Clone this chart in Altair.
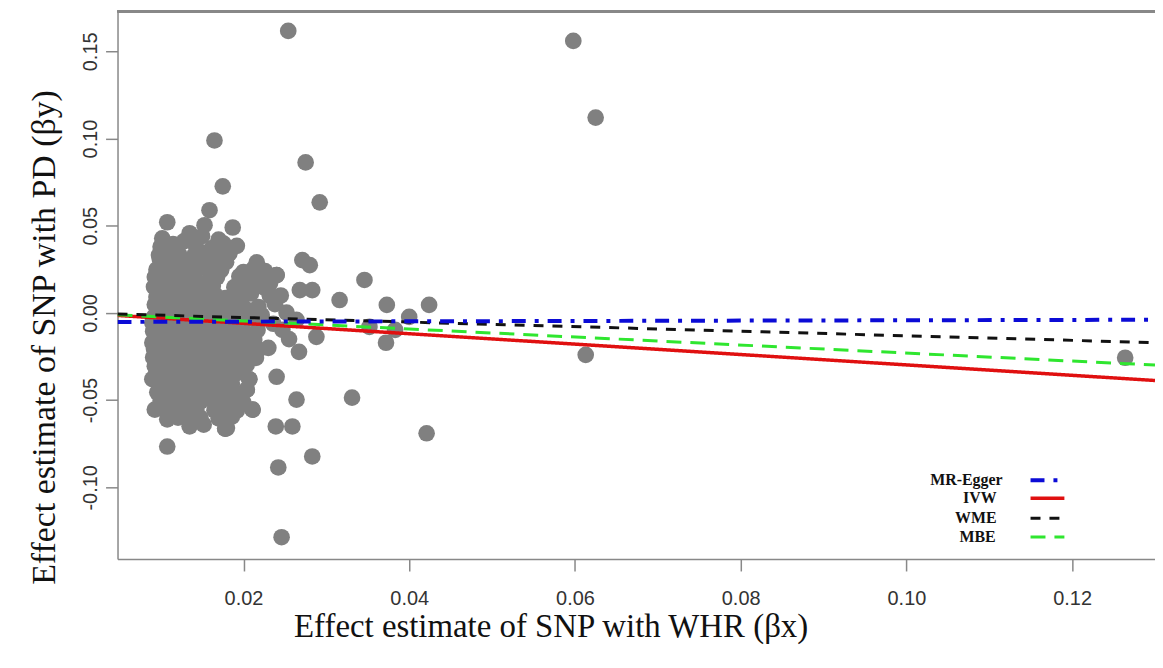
import altair as alt
import pandas as pd

# ---------------- data ----------------
cluster_points = [
    (0.0102,0.0428),(0.0108,0.0520),(0.0135,0.0457),(0.0150,0.0440),(0.0153,0.0503),(0.0159,0.0589),(0.0187,0.0490),(0.0170,0.0420),
    (0.0100,0.0380),(0.0115,0.0395),(0.0128,0.0410),(0.0162,0.0372),(0.0176,0.0398),(0.0192,0.0385),(0.0143,0.0375),
    (0.0098,0.0332),(0.0110,0.0345),(0.0122,0.0338),(0.0140,0.0325),(0.0158,0.0350),(0.0171,0.0318),(0.0183,0.0342),
    (0.0099,0.0310),(0.0108,0.0285),(0.0121,0.0296),(0.0133,0.0282),(0.0152,0.0300),(0.0166,0.0276),(0.0179,0.0291),(0.0216,0.0290),
    (0.0095,0.0248),(0.0105,0.0238),(0.0118,0.0256),(0.0131,0.0232),(0.0144,0.0250),(0.0160,0.0228),(0.0173,0.0245),(0.0200,0.0235),(0.0212,0.0252),(0.0226,0.0240),
    (0.0093,0.0206),(0.0103,0.0190),(0.0116,0.0212),(0.0127,0.0185),(0.0141,0.0198),(0.0156,0.0176),(0.0168,0.0204),(0.0195,0.0210),(0.0207,0.0188),(0.0221,0.0200),(0.0240,0.0217),(0.0232,0.0170),
    (0.0092,0.0150),(0.0104,0.0138),(0.0117,0.0158),(0.0129,0.0132),(0.0142,0.0146),(0.0150,0.0120),(0.0163,0.0155),(0.0189,0.0148),(0.0201,0.0130),(0.0214,0.0160),(0.0226,0.0142),
    (0.0095,0.0091),(0.0102,0.0105),(0.0114,0.0088),(0.0126,0.0110),(0.0138,0.0094),(0.0151,0.0080),(0.0166,0.0102),(0.0178,0.0085),(0.0196,0.0098),(0.0209,0.0112),(0.0232,0.0096),
    (0.0093,0.0048),(0.0105,0.0035),(0.0117,0.0056),(0.0129,0.0030),(0.0141,0.0052),(0.0157,0.0040),(0.0169,0.0062),(0.0184,0.0038),(0.0198,0.0054),(0.0218,0.0034),(0.0238,0.0050),
    (0.0092,-0.0023),(0.0103,0.0008),(0.0115,-0.0010),(0.0127,0.0012),(0.0139,-0.0005),(0.0153,0.0010),(0.0166,-0.0015),(0.0180,0.0005),(0.0193,-0.0008),(0.0206,0.0015),(0.0222,-0.0012),(0.0252,0.0002),
    (0.0090,-0.0055),(0.0101,-0.0045),(0.0113,-0.0062),(0.0125,-0.0040),(0.0137,-0.0058),(0.0149,-0.0048),(0.0161,-0.0065),(0.0174,-0.0042),(0.0187,-0.0060),(0.0200,-0.0050),(0.0214,-0.0038),(0.0236,-0.0062),
    (0.0091,-0.0105),(0.0104,-0.0112),(0.0116,-0.0095),(0.0128,-0.0118),(0.0140,-0.0100),(0.0152,-0.0110),(0.0164,-0.0092),(0.0177,-0.0115),(0.0190,-0.0102),(0.0203,-0.0120),(0.0217,-0.0098),(0.0247,-0.0097),
    (0.0090,-0.0171),(0.0102,-0.0150),(0.0114,-0.0162),(0.0126,-0.0145),(0.0138,-0.0158),(0.0150,-0.0148),(0.0162,-0.0165),(0.0175,-0.0152),(0.0188,-0.0160),(0.0201,-0.0142),(0.0213,-0.0155),
    (0.0092,-0.0205),(0.0104,-0.0212),(0.0116,-0.0195),(0.0128,-0.0210),(0.0140,-0.0198),(0.0152,-0.0215),(0.0164,-0.0202),(0.0177,-0.0190),(0.0190,-0.0208),(0.0203,-0.0196),(0.0218,-0.0210),
    (0.0091,-0.0255),(0.0103,-0.0245),(0.0115,-0.0262),(0.0127,-0.0248),(0.0139,-0.0258),(0.0151,-0.0242),(0.0163,-0.0256),(0.0176,-0.0250),(0.0189,-0.0262),(0.0202,-0.0244),(0.0215,-0.0258),
    (0.0093,-0.0305),(0.0105,-0.0295),(0.0117,-0.0312),(0.0129,-0.0298),(0.0141,-0.0308),(0.0153,-0.0292),(0.0165,-0.0306),(0.0178,-0.0300),(0.0191,-0.0310),(0.0204,-0.0296),
    (0.0094,-0.0355),(0.0106,-0.0345),(0.0118,-0.0360),(0.0130,-0.0348),(0.0142,-0.0358),(0.0154,-0.0342),(0.0166,-0.0356),(0.0179,-0.0350),(0.0192,-0.0345),(0.0207,-0.0380),
    (0.0090,-0.0380),(0.0101,-0.0405),(0.0113,-0.0395),(0.0125,-0.0410),(0.0137,-0.0398),(0.0151,-0.0400),(0.0161,-0.0408),(0.0173,-0.0395),(0.0186,-0.0405),(0.0204,-0.0440),
    (0.0096,-0.0455),(0.0108,-0.0445),(0.0120,-0.0460),(0.0132,-0.0448),(0.0144,-0.0458),(0.0156,-0.0442),(0.0168,-0.0456),(0.0181,-0.0450),(0.0194,-0.0462),
    (0.0100,-0.0505),(0.0112,-0.0495),(0.0124,-0.0512),(0.0136,-0.0498),(0.0148,-0.0508),(0.0160,-0.0492),(0.0172,-0.0506),(0.0185,-0.0500),(0.0200,-0.0515),
    (0.0093,-0.0554),(0.0106,-0.0560),(0.0118,-0.0548),(0.0130,-0.0562),(0.0143,-0.0552),(0.0165,-0.0558),(0.0178,-0.0545),(0.0192,-0.0560),(0.0211,-0.0554),
    (0.0108,-0.0610),(0.0121,-0.0600),(0.0135,-0.0615),(0.0148,-0.0600),(0.0170,-0.0605),(0.0186,-0.0595),
    (0.0135,-0.0650),(0.0152,-0.0640),(0.0178,-0.0663),(0.0180,-0.0660),
]

outlier_points = [
    (0.0254,0.1617),(0.0165,0.0989),(0.0275,0.0863),(0.0175,0.0726),(0.0292,0.0634),
    (0.0598,0.1560),(0.0625,0.1120),(0.0613,-0.0240),(0.1264,-0.0257),
    (0.0271,0.0303),(0.0280,0.0274),(0.0346,0.0189),(0.0240,0.0217),(0.0268,0.0131),(0.0283,0.0131),
    (0.0316,0.0074),(0.0373,0.0046),(0.0424,0.0046),(0.0400,-0.0023),(0.0352,-0.0080),(0.0372,-0.0171),
    (0.0264,-0.0040),(0.0267,-0.0223),(0.0288,-0.0137),(0.0240,-0.0366),(0.0264,-0.0497),(0.0331,-0.0486),
    (0.0239,-0.0651),(0.0259,-0.0651),(0.0421,-0.0690),(0.0283,-0.0823),(0.0242,-0.0886),(0.0246,-0.1286),
    (0.0108,-0.0766),(0.0178,-0.0663),(0.0207,-0.0380),(0.0204,-0.0440),(0.0211,-0.0554),(0.0383,-0.0097),
    (0.0245,0.0100),(0.0230,-0.0200),(0.0255,-0.0150),
]

methods = ["MR-Egger", "IVW", "WME", "MBE"]
intercepts = [-0.0052, 0.0, 0.0, 0.0]
slopes = [0.010, -0.298, -0.131, -0.230]
colors = ["#0b0bd6", "#e01010", "#111111", "#2fe62f"]
dashes = [[14, 9, 4, 9], [1, 0], [10, 9], [15, 9]]
widths = [4, 3.5, 3, 3]

x_ticks = [0.02, 0.04, 0.06, 0.08, 0.10, 0.12]
y_ticks = [-0.10, -0.05, 0.00, 0.05, 0.10, 0.15]
x_domain = [0.0048, 0.1300]
y_domain = [-0.1411, 0.1729]

W, H = 1042, 550

pts = pd.DataFrame(cluster_points + outlier_points, columns=["bx", "by"])

x_enc = alt.X("bx:Q", scale=alt.Scale(domain=x_domain, nice=False, zero=False),
              axis=alt.Axis(values=x_ticks, format=".2f", grid=False, labelPadding=18,
                            title="Effect estimate of SNP with WHR (βx)",
                            titleX=435, titleY=78, titleAlign="center",
                            titleBaseline="alphabetic", titleAngle=0))
y_enc = alt.Y("by:Q", scale=alt.Scale(domain=y_domain, nice=False, zero=False),
              axis=alt.Axis(values=y_ticks, grid=False, labelPadding=5,
                            labelExpr="datum.value < -0.0001 ? '-' + format(-datum.value, '.2f') : format(abs(datum.value), '.2f')",
                            labelAngle=270, labelAlign="center", labelBaseline="bottom",
                            title="Effect estimate of SNP with PD (βy)",
                            titleX=-73, titleY=327, titleAngle=270, titleAlign="center",
                            titleBaseline="middle", titleFontSize=34))

points = alt.Chart(pts).mark_circle(size=280, color="#808080", opacity=1).encode(x=x_enc, y=y_enc)

line_rows = []
for m, a, b in zip(methods, intercepts, slopes):
    for xv in x_domain:
        line_rows.append({"method": m, "bx": xv, "by": a + b * xv})
lines_df = pd.DataFrame(line_rows)

line_layers = []
for m, c, d, w in zip(methods, colors, dashes, widths):
    line_layers.append(
        alt.Chart(lines_df[lines_df.method == m]).mark_line(
            color=c, strokeDash=d, strokeWidth=w, clip=True
        ).encode(x="bx:Q", y="by:Q")
    )
# IVW drawn below the dashed lines
order = [1, 3, 2, 0]
line_layers = [line_layers[i] for i in order]

top_border = alt.Chart(pts).mark_rule(color="#888888", strokeWidth=1.5).encode(
    x=alt.value(0), x2=alt.value(W), y=alt.value(0)
)

legend_layers = []
legend_text_x = [889, 883, 883, 882]
legend_y = [471, 489, 509, 528]
for m, c, d, w, tx, ly in zip(methods, colors, dashes, widths, legend_text_x, legend_y):
    legend_layers.append(
        alt.Chart(pd.DataFrame({"label": [m]})).mark_text(
            font="Liberation Serif", fontWeight="bold", fontSize=16, align="right",
            baseline="middle", color="#111111"
        ).encode(text="label:N", x=alt.value(tx), y=alt.value(ly))
    )
    legend_layers.append(
        alt.Chart(pd.DataFrame({"label": [m]})).mark_rule(
            color=c, strokeDash=d, strokeWidth=w
        ).encode(x=alt.value(917), x2=alt.value(951), y=alt.value(ly))
    )

chart = alt.layer(points, *line_layers, top_border, *legend_layers).properties(
    width=W, height=H,
    autosize=alt.AutoSizeParams(type="none"),
    padding={"left": 110, "top": 2, "right": 0, "bottom": 100},
).configure_view(stroke=None).configure_axis(
    domainColor="#888888", domainWidth=1.5, tickColor="#888888", tickWidth=1.5,
    tickSize=12, labelFont="Liberation Sans", labelFontSize=20, labelColor="#333333",
    titleFont="Liberation Serif", titleFontSize=33, titleFontWeight="normal",
    titleColor="#111111"
)

chart.save("out.html", embed_options={"renderer": "svg", "actions": False})
